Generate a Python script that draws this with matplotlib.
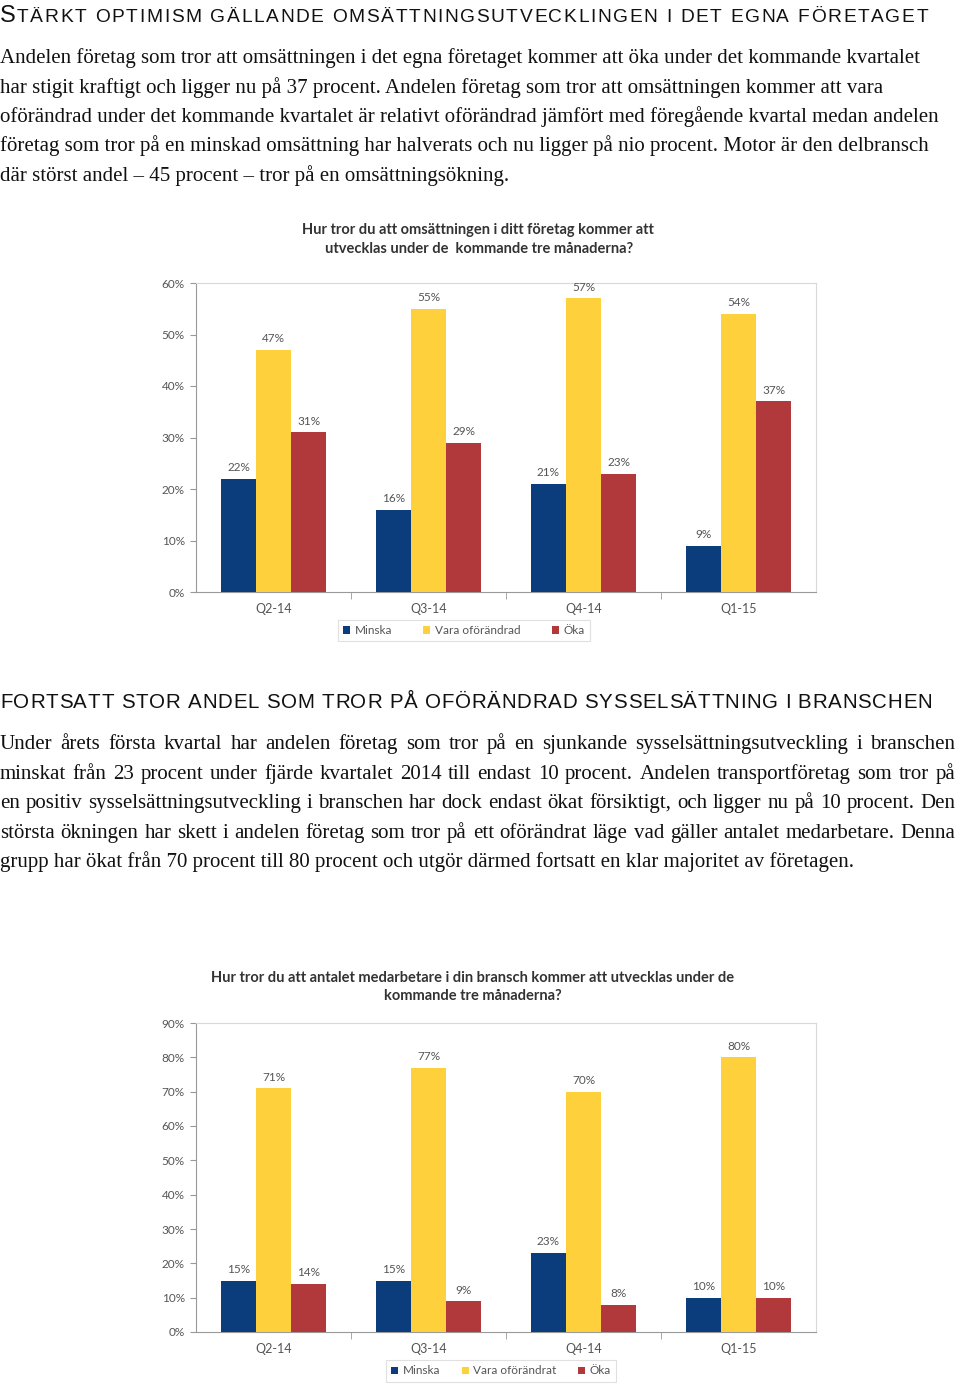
import matplotlib
matplotlib.use("Agg")
import matplotlib.pyplot as plt
import numpy as np

quarters = ["Q2-14", "Q3-14", "Q4-14", "Q1-15"]

# diagram 1: omsättning
oms_minska = [22, 16, 21, 9]
oms_vara = [47, 55, 57, 54]
oms_oka = [31, 29, 23, 37]

# diagram 2: medarbetare
med_minska = [15, 15, 23, 10]
med_vara = [71, 77, 70, 80]
med_oka = [14, 9, 8, 10]

heading1 = "STÄRKT OPTIMISM GÄLLANDE OMSÄTTNINGSUTVECKLINGEN I DET EGNA FÖRETAGET"
heading2 = "FORTSATT STOR ANDEL SOM TROR PÅ OFÖRÄNDRAD SYSSELSÄTTNING I BRANSCHEN"

para1 = [
    "Andelen företag som tror att omsättningen i det egna företaget kommer att öka under det kommande kvartalet",
    "har stigit kraftigt och ligger nu på 37 procent. Andelen företag som tror att omsättningen kommer att vara",
    "oförändrad under det kommande kvartalet är relativt oförändrad jämfört med föregående kvartal medan andelen",
    "företag som tror på en minskad omsättning har halverats och nu ligger på nio procent. Motor är den delbransch",
    "där störst andel – 45 procent – tror på en omsättningsökning.",
]
para2 = [
    "Under årets första kvartal har andelen företag som tror på en sjunkande sysselsättningsutveckling i branschen",
    "minskat från 23 procent under fjärde kvartalet 2014 till endast 10 procent. Andelen transportföretag som tror på",
    "en positiv sysselsättningsutveckling i branschen har dock endast ökat försiktigt, och ligger nu på 10 procent. Den",
    "största ökningen har skett i andelen företag som tror på ett oförändrat läge vad gäller antalet medarbetare. Denna",
    "grupp har ökat från 70 procent till 80 procent och utgör därmed fortsatt en klar majoritet av företagen.",
]

BLUE = "#0b3d7c"
YELLOW = "#fdd03c"
RED = "#b1383b"
GRID = "#d9d9d9"
TXT = "#555555"

W, H = 960, 1385
fig = plt.figure(figsize=(9.6, 13.85), dpi=100)
renderer = fig.canvas.get_renderer()


def fy(y):
    return 1 - y / H


def put(x, y, s, **kw):
    return fig.text(x / W, fy(y), s, va="baseline", ha="left", **kw)


def width_px(t):
    return t.get_window_extent(renderer).width


def spread(x0, y, s, right, **kw):
    # place words so the line runs from x0 to right
    words = s.split(" ")
    texts = [put(0, y, w, **kw) for w in words]
    widths = [width_px(t) for t in texts]
    gap = (right - x0 - sum(widths)) / (len(words) - 1)
    x = x0
    for t, w in zip(texts, widths):
        t.set_x(x / W)
        x += w + gap


def tracked(x0, y, s, right, **kw):
    # letter-spaced line from x0 to right
    a = put(0, y, "aa", **kw)
    b = put(0, y, "a a", **kw)
    space = width_px(b) - width_px(a)
    a.remove()
    b.remove()
    items = []
    for ch in s:
        if ch == " ":
            items.append((None, space))
        else:
            t = put(0, y, ch, **kw)
            items.append((t, width_px(t)))
    total = sum(w for _, w in items)
    track = (right - x0 - total) / (len(items) - 1)
    x = x0
    for t, w in items:
        if t is not None:
            t.set_x(x / W)
        x += w + track


PKW = dict(family="Liberation Serif", fontsize=15.0, color="#111111")

# heading 1 with large first letter
hk = dict(family="Liberation Sans", color="#111111")
t0 = put(0, 22, heading1[0], fontsize=17, **hk)
tracked(width_px(t0) + 1, 22, heading1[1:], 928, fontsize=13.8, **hk)

for i, line in enumerate(para1):
    put(0, 63 + i * 29.5, line, **PKW)

tracked(0, 708, heading2, 932, fontsize=14.8, **hk)
for i, line in enumerate(para2):
    if i < len(para2) - 1:
        spread(0, 749 + i * 29.6, line, 955, **PKW)
    else:
        put(0, 749 + i * 29.6, line, **PKW)


def chart(bottom_px, top_px, ymax, step, title_lines, title_pos, minska, vara, oka,
          vara_label, legend_center, colspace):
    ax = fig.add_axes([196 / W, fy(bottom_px), 620 / W, (bottom_px - top_px) / H])
    x = np.arange(len(quarters))
    bw = 0.226
    series = [(minska, BLUE, "Minska"), (vara, YELLOW, vara_label), (oka, RED, "Öka")]
    for k, (vals, col, lab) in enumerate(series):
        pos = x + (k - 1) * bw
        ax.bar(pos, vals, width=bw, color=col, label=lab, zorder=3)
        for p, v in zip(pos, vals):
            ax.text(p, v + ymax * 0.018, f"{v}%", ha="center", va="bottom",
                    fontsize=8.5, color=TXT, family="Lato")
    ax.set_xlim(-0.5, len(quarters) - 0.5)
    ax.set_ylim(0, ymax)
    ax.set_yticks(np.arange(0, ymax + 1, step))
    ax.set_yticklabels([f"{v}%" for v in range(0, ymax + 1, step)],
                       fontsize=8.5, color=TXT, family="Lato")
    ax.set_xticks(x)
    ax.set_xticklabels(quarters, fontsize=9, color=TXT, family="Lato")
    ax.set_xticks(np.arange(0.5, len(quarters) - 0.5), minor=True)
    ax.tick_params(axis="x", which="major", length=0, pad=8)
    ax.tick_params(axis="x", which="minor", length=5, color="#999999")
    ax.tick_params(axis="y", length=4, color="#999999", pad=4)
    for side in ["top", "right"]:
        ax.spines[side].set_color(GRID)
        ax.spines[side].set_linewidth(0.8)
    for side in ["left", "bottom"]:
        ax.spines[side].set_color("#999999")
        ax.spines[side].set_linewidth(0.8)
    for (tx, ty), line in zip(title_pos, title_lines):
        fig.text(tx / W, fy(ty), line, ha="center", va="center", fontsize=10.5,
                 fontweight="bold", color="#333333", family="Lato")
    leg = ax.legend(loc="center", bbox_to_anchor=(legend_center[0] / W, fy(legend_center[1])),
                    bbox_transform=fig.transFigure, ncol=3,
                    frameon=True, fancybox=False, edgecolor=GRID,
                    handlelength=0.6, handleheight=0.6, handletextpad=0.4,
                    columnspacing=colspace, borderpad=0.45,
                    prop={"family": "Lato", "size": 8.5})
    leg.get_frame().set_linewidth(0.8)
    for t in leg.get_texts():
        t.set_color(TXT)
    return ax


chart(592, 283, 60, 10,
      ["Hur tror du att omsättningen i ditt företag kommer att",
       "utvecklas under de  kommande tre månaderna?"],
      [(478, 230), (479, 249)],
      oms_minska, oms_vara, oms_oka, "Vara oförändrad", (464, 630.5), 2.6)

chart(1332, 1023, 90, 10,
      ["Hur tror du att antalet medarbetare i din bransch kommer att utvecklas under de",
       "kommande tre månaderna?"],
      [(473, 978), (473, 996)],
      med_minska, med_vara, med_oka, "Vara oförändrat", (501, 1371), 1.8)

fig.savefig("out.png", dpi=100)
